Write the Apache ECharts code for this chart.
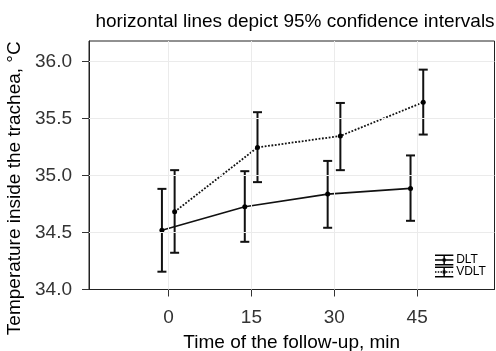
<!DOCTYPE html>
<html>
<head>
<meta charset="utf-8">
<script src="https://cdn.jsdelivr.net/npm/echarts@6/dist/echarts.min.js"></script>
<style>html,body{margin:0;padding:0;background:#fff}#c{width:496px;height:351px}</style>
</head>
<body>
<div id="c"></div>
<script>
const times = [0, 15, 30, 45];
const xTicks = [0, 15, 30, 45];
const yTicks = [34.0, 34.5, 35.0, 35.5, 36.0];
const dltMean = [34.52, 34.725, 34.836, 34.886];
const dltLow = [34.156, 34.418, 34.541, 34.602];
const dltHigh = [34.882, 35.037, 35.127, 35.175];
const vdltMean = [34.681, 35.245, 35.346, 35.641];
const vdltLow = [34.322, 34.941, 35.046, 35.358];
const vdltHigh = [35.046, 35.554, 35.635, 35.927];
const dodgeDLT = -1.2;
const dodgeVDLT = 1.1;

const FONT = '"Liberation Sans", Arial, sans-serif';
const chart = echarts.init(document.getElementById('c'));

function errRender(params, api) {
  const x = api.value(0), lo = api.value(1), hi = api.value(2);
  const pl = api.coord([x, lo]);
  const ph = api.coord([x, hi]);
  const hw = 4.5;
  const st = {stroke: '#111', lineWidth: 2};
  return {
    type: 'group',
    children: [
      {type: 'line', shape: {x1: pl[0], y1: pl[1], x2: ph[0], y2: ph[1]}, style: st},
      {type: 'line', shape: {x1: pl[0] - hw, y1: pl[1], x2: pl[0] + hw, y2: pl[1]}, style: st},
      {type: 'line', shape: {x1: ph[0] - hw, y1: ph[1], x2: ph[0] + hw, y2: ph[1]}, style: st}
    ]
  };
}

const iconBase = 'M0 0H20V1.6H0Z M0 10.4H20V12H0Z M9.2 0H10.8V12H9.2Z M8.3 4.3H11.7V7.7H8.3Z ';
const iconDLT = 'path://' + iconBase + 'M0 5.3H20V6.7H0Z';
let dots = '';
for (let i = 0; i < 20; i += 3) dots += 'M' + i + ' 5.3H' + (i + 1.6) + 'V6.7H' + i + 'Z ';
const iconVDLT = 'path://' + iconBase + dots;

const option = {
  animation: false,
  backgroundColor: '#fff',
  title: {
    text: 'horizontal lines depict 95% confidence intervals',
    left: 290, top: 7, textAlign: 'center',
    textStyle: {fontFamily: FONT, fontSize: 19, fontWeight: 'normal', color: '#000'}
  },
  legend: {
    orient: 'vertical', left: 430, top: 249, itemGap: 0,
    itemWidth: 20, itemHeight: 11,
    textStyle: {fontFamily: FONT, fontSize: 12, color: '#000', padding: [0, 0, 0, -3]},
    data: [{name: 'DLT', icon: iconDLT}, {name: 'VDLT', icon: iconVDLT}]
  },
  grid: {
    left: 89, top: 41, right: 1.5, bottom: 61.5,
    containLabel: false, outerBoundsMode: 'none',
    show: true, borderColor: '#222', borderWidth: 1, backgroundColor: 'transparent'
  },
  xAxis: {
    type: 'value', min: -14.4, max: 59,
    name: 'Time of the follow-up, min', nameLocation: 'middle', nameGap: 44,
    nameTextStyle: {fontFamily: FONT, fontSize: 19, color: '#000'},
    axisLine: {onZero: false, lineStyle: {color: '#222', width: 1}},
    axisTick: {show: true, length: 7, customValues: xTicks, lineStyle: {color: '#333'}},
    axisLabel: {customValues: xTicks, fontFamily: FONT, fontSize: 19, color: '#333', margin: 19},
    splitLine: {show: false}
  },
  yAxis: {
    type: 'value', min: 34, max: 36.178,
    name: 'Temperature inside the trachea, °C', nameLocation: 'middle', nameGap: 59,
    nameTextStyle: {fontFamily: FONT, fontSize: 19, color: '#000', padding: [0, 46, 0, 0]},
    axisLine: {show: true, onZero: false, lineStyle: {color: '#222', width: 1}},
    axisTick: {show: true, length: 7, customValues: yTicks, lineStyle: {color: '#333'}},
    axisLabel: {customValues: yTicks, fontFamily: FONT, fontSize: 19, color: '#333', margin: 17,
      formatter: v => v.toFixed(1)},
    splitLine: {show: false}
  },
  series: [
    {
      name: 'grid lines', type: 'line', data: [], z: 0, silent: true,
      markLine: {
        silent: true, symbol: 'none', animation: false,
        label: {show: false},
        lineStyle: {color: '#ebebeb', type: 'solid', width: 1},
        data: xTicks.map(v => ({xAxis: v})).concat(yTicks.slice(1).map(v => ({yAxis: v})))
      }
    },
    {
      name: 'DLT', type: 'custom', renderItem: errRender, z: 3,
      itemStyle: {color: '#000'},
      encode: {x: 0, y: [1, 2]},
      data: times.map((t, i) => [t + dodgeDLT, dltLow[i], dltHigh[i]])
    },
    {
      name: 'VDLT', type: 'custom', renderItem: errRender, z: 3,
      itemStyle: {color: '#000'},
      encode: {x: 0, y: [1, 2]},
      data: times.map((t, i) => [t + dodgeVDLT, vdltLow[i], vdltHigh[i]])
    },
    {
      name: 'DLT mean', type: 'line', z: 4,
      symbol: 'circle', symbolSize: 5,
      itemStyle: {color: '#000'},
      lineStyle: {color: '#111', width: 1.6, type: 'solid'},
      data: times.map((t, i) => [t + dodgeDLT, dltMean[i]])
    },
    {
      name: 'VDLT mean', type: 'line', z: 4,
      symbol: 'circle', symbolSize: 5,
      itemStyle: {color: '#000'},
      lineStyle: {color: '#111', width: 1.8, type: [1.8, 1.6]},
      data: times.map((t, i) => [t + dodgeVDLT, vdltMean[i]])
    }
  ]
};
chart.setOption(option);
</script>
</body>
</html>
